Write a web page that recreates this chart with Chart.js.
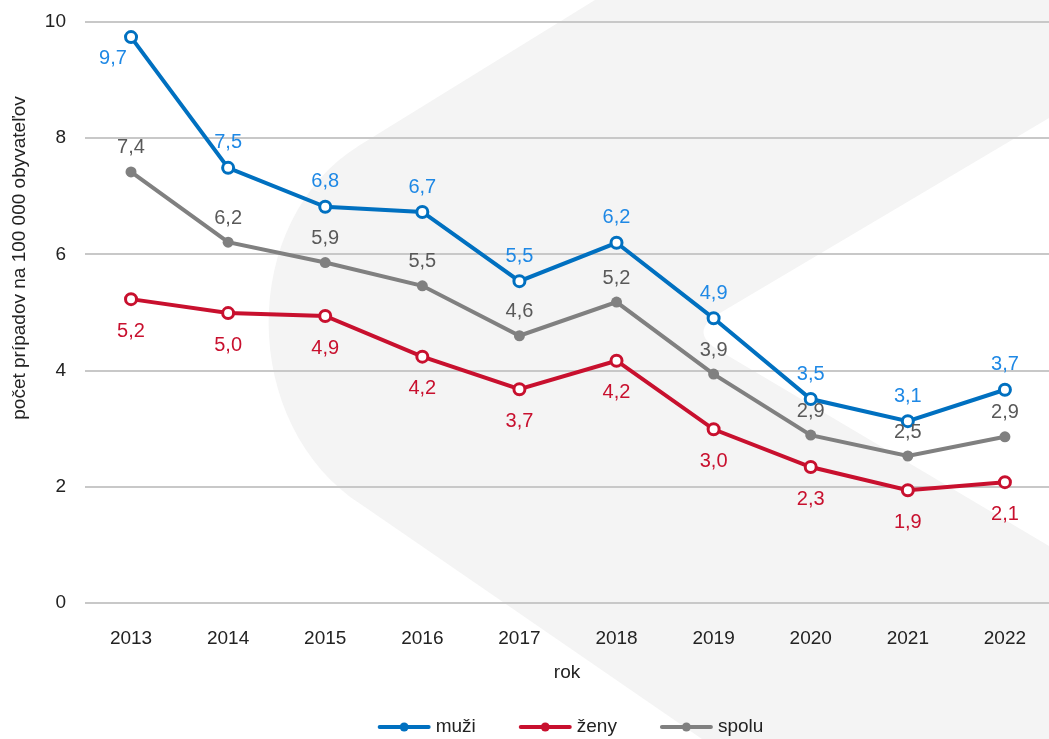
<!DOCTYPE html>
<html><head><meta charset="utf-8">
<script src="https://cdn.jsdelivr.net/npm/chart.js@4.4.0/dist/chart.umd.min.js"></script>
<style>html,body{margin:0;padding:0;background:#fff}canvas{display:block}</style>
</head><body>
<canvas id="c" width="1049" height="739"></canvas>
<script>
// ---- data ----
const years = [2013, 2014, 2015, 2016, 2017, 2018, 2019, 2020, 2021, 2022];
const muzi  = [9.74, 7.49, 6.82, 6.73, 5.54, 6.20, 4.90, 3.51, 3.13, 3.67];
const zeny  = [5.23, 4.99, 4.94, 4.24, 3.68, 4.17, 2.99, 2.34, 1.94, 2.08];
const spolu = [7.42, 6.21, 5.86, 5.46, 4.60, 5.18, 3.94, 2.89, 2.53, 2.86];
const yTicks = [0, 2, 4, 6, 8, 10];
const seriesNames = ['muži', 'ženy', 'spolu'];
const xTitle = 'rok';
const yTitle = 'počet prípadov na 100 000 obyvateľov';

const FONT = "'Liberation Sans', Arial, sans-serif";
const TXT = '#222222';
const fmt = v => v.toFixed(1).replace('.', ',');
const pts = arr => years.map((y, i) => ({x: y, y: arr[i]}));

const bgPlugin = {
  id: 'bg',
  beforeDraw(chart) {
    const ctx = chart.ctx, W = chart.width, H = chart.height;
    ctx.save();
    ctx.fillStyle = '#ffffff';
    ctx.fillRect(0, 0, W, H);
    ctx.fillStyle = '#f4f4f4';
    ctx.beginPath();
    ctx.moveTo(595, 0);
    ctx.lineTo(360, 145);
    ctx.bezierCurveTo(238, 220, 238, 425, 362, 505);
    ctx.lineTo(702, 739);
    ctx.lineTo(W, H);
    ctx.lineTo(W, 546);
    ctx.lineTo(720, 351);
    ctx.quadraticCurveTo(687, 332, 720, 313);
    ctx.lineTo(W, 118);
    ctx.lineTo(W, 0);
    ctx.closePath();
    ctx.fill();
    ctx.restore();
  }
};

const labelPlugin = {
  id: 'vlabels',
  afterDatasetsDraw(chart) {
    const ctx = chart.ctx;
    ctx.save();
    ctx.font = '20px ' + FONT;
    ctx.textAlign = 'center';
    ctx.textBaseline = 'middle';
    chart.data.datasets.forEach((ds, i) => {
      const meta = chart.getDatasetMeta(i);
      ctx.fillStyle = ds.labelColor;
      meta.data.forEach((el, j) => {
        let dx = 0, dy = ds.labelDy;
        const o = ds.labelOverride && ds.labelOverride[j];
        if (o) { dx = o[0]; dy = o[1]; }
        ctx.fillText(fmt(ds.data[j].y), el.x + dx, el.y + dy);
      });
    });
    ctx.restore();
  }
};

const extrasPlugin = {
  id: 'extras',
  afterDraw(chart) {
    const ctx = chart.ctx;
    ctx.save();
    // y axis title
    ctx.font = '19px ' + FONT;
    ctx.fillStyle = TXT;
    ctx.textAlign = 'center';
    ctx.textBaseline = 'middle';
    ctx.translate(20, 258);
    ctx.rotate(-Math.PI / 2);
    ctx.fillText(yTitle, 0, 0);
    ctx.restore();

    // legend
    ctx.save();
    ctx.font = '19px ' + FONT;
    ctx.textBaseline = 'middle';
    ctx.textAlign = 'left';
    const lineW = 51, gapT = 6, gapI = 44, cy = 727;
    const items = chart.data.datasets.map(ds => ({t: ds.label, c: ds.borderColor, w: ctx.measureText(ds.label).width}));
    let total = 0;
    items.forEach((it, k) => { total += lineW + gapT + it.w + (k ? gapI : 0); });
    let x = 571 - total / 2;
    items.forEach(it => {
      ctx.strokeStyle = it.c;
      ctx.lineWidth = 4;
      ctx.lineCap = 'round';
      ctx.beginPath();
      ctx.moveTo(x + 1, cy);
      ctx.lineTo(x + lineW - 1, cy);
      ctx.stroke();
      ctx.fillStyle = it.c;
      ctx.beginPath();
      ctx.arc(x + lineW / 2, cy, 4.5, 0, Math.PI * 2);
      ctx.fill();
      ctx.fillStyle = TXT;
      ctx.fillText(it.t, x + lineW + gapT, cy);
      x += lineW + gapT + it.w + gapI;
    });
    ctx.restore();
  }
};

new Chart(document.getElementById('c'), {
  type: 'line',
  data: {
    datasets: [
      {label: seriesNames[0], data: pts(muzi), borderColor: '#0070C0', backgroundColor: '#0070C0',
       borderWidth: 4, pointRadius: 5.5, pointBorderWidth: 3, pointBackgroundColor: '#ffffff',
       pointBorderColor: '#0070C0', labelColor: '#1E88E5', labelDy: -25, labelOverride: {0: [-18, 21]}},
      {label: seriesNames[1], data: pts(zeny), borderColor: '#C8102E', backgroundColor: '#C8102E',
       borderWidth: 4, pointRadius: 5.5, pointBorderWidth: 3, pointBackgroundColor: '#ffffff',
       pointBorderColor: '#C8102E', labelColor: '#C8102E', labelDy: 32},
      {label: seriesNames[2], data: pts(spolu), borderColor: '#808080', backgroundColor: '#808080',
       borderWidth: 4, pointRadius: 5.5, pointBorderWidth: 0, pointBackgroundColor: '#808080',
       pointBorderColor: '#808080', labelColor: '#595959', labelDy: -24}
    ]
  },
  options: {
    responsive: false,
    animation: false,
    devicePixelRatio: 1,
    layout: {autoPadding: false, padding: {top: 22, right: 0, bottom: 0, left: 0}},
    plugins: {legend: {display: false}, tooltip: {enabled: false}},
    scales: {
      x: {
        type: 'linear', min: 2012.526, max: 2022.454,
        afterBuildTicks: s => { s.ticks = years.map(v => ({value: v})); },
        afterFit: s => { s.height = 136; s.paddingLeft = 0; s.paddingRight = 0; },
        grid: {display: false}, border: {display: false},
        ticks: {padding: 16, font: {family: FONT, size: 19}, color: TXT, autoSkip: false, maxRotation: 0,
                callback: v => String(v)},
        title: {display: true, text: xTitle, font: {family: FONT, size: 19}, color: TXT,
                padding: {top: 0, bottom: 54.6}}
      },
      y: {
        min: 0, max: 10,
        afterBuildTicks: s => { s.ticks = yTicks.map(v => ({value: v})); },
        afterFit: s => { s.width = 85; s.paddingTop = 0; s.paddingBottom = 0; },
        grid: {color: '#C8C8C8', lineWidth: 2, drawTicks: false}, border: {display: false},
        ticks: {padding: 19, font: {family: FONT, size: 19}, color: TXT}
      }
    }
  },
  plugins: [bgPlugin, labelPlugin, extrasPlugin]
});
</script>
</body></html>
